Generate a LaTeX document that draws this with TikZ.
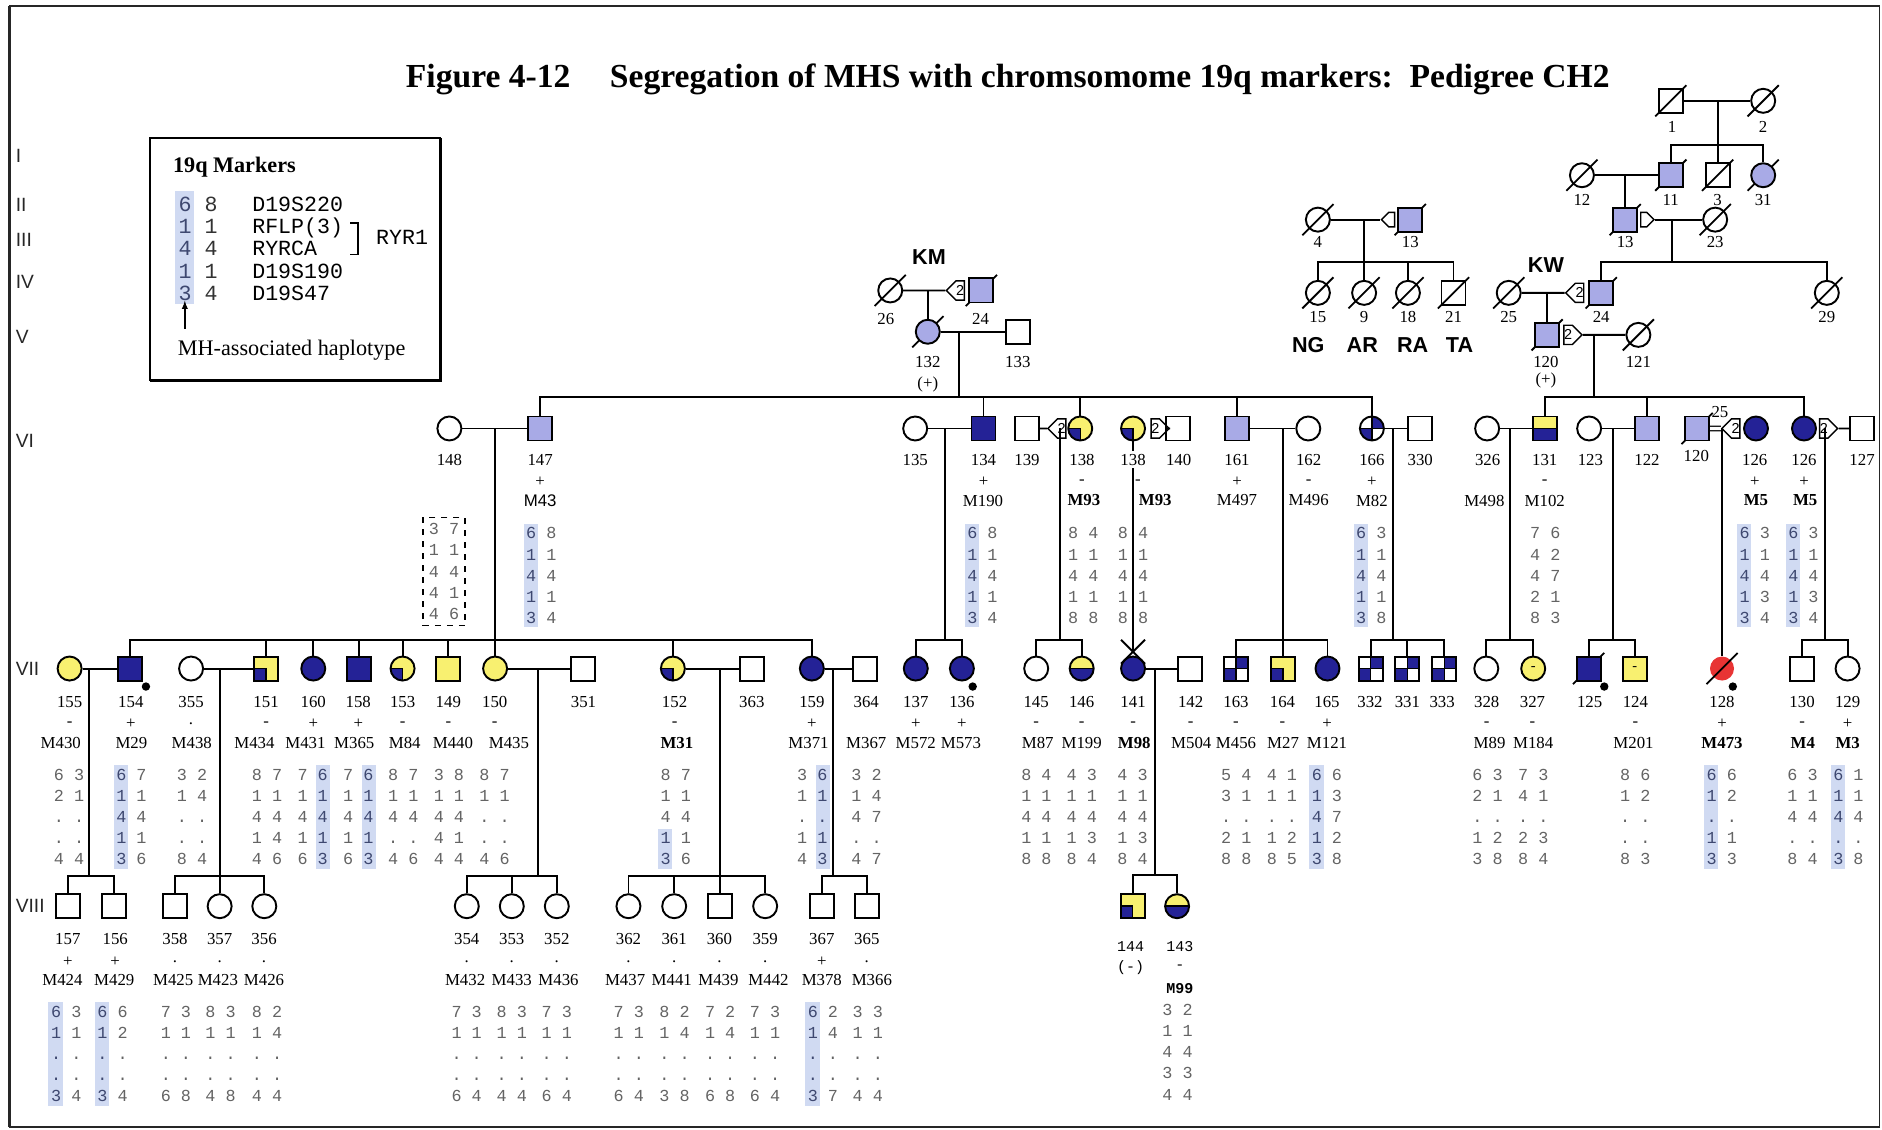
\documentclass[tikz,border=0pt]{standalone}
\usepackage{fontspec}
\setmainfont{Liberation Serif}
\setsansfont{Liberation Sans}
\setmonofont{Liberation Mono}
\usetikzlibrary{arrows,shapes.symbols}
\pgfdeclarelayer{bg}
\pgfsetlayers{bg,main}

\definecolor{lblue}{RGB}{168,170,230}
\definecolor{dblue}{RGB}{36,34,150}
\definecolor{yel}{RGB}{248,240,112}
\definecolor{redc}{RGB}{232,52,52}
\definecolor{hlc}{RGB}{208,218,242}
\definecolor{adig}{RGB}{100,100,100}
\definecolor{hdig}{RGB}{62,72,112}

\tikzset{
  ml/.style={rectangle,draw,line width=1.6pt,minimum size=20pt,inner sep=0pt},
  fm/.style={circle,draw,line width=1.6pt,minimum size=20pt,inner sep=0pt},
  lb/.style={fill=lblue},
  db/.style={fill=dblue},
  yw/.style={fill=yel},
  rd/.style={fill=redc},
  yq/.style={fill=yel,path picture={
      \fill[dblue] (path picture bounding box.south west) rectangle (path picture bounding box.center);
      \draw[line width=1.2pt] (path picture bounding box.west) -- (path picture bounding box.center) -- (path picture bounding box.south);}},
  xq/.style={fill=white,path picture={
      \fill[dblue] (path picture bounding box.south west) rectangle (path picture bounding box.center);
      \fill[dblue] (path picture bounding box.center) rectangle (path picture bounding box.north east);
      \draw[line width=1.2pt] (path picture bounding box.west) -- (path picture bounding box.east)
        (path picture bounding box.north) -- (path picture bounding box.south);}},
  hf/.style={fill=yel,path picture={
      \fill[dblue] (path picture bounding box.south west) rectangle (path picture bounding box.east);
      \draw[line width=1.2pt] (path picture bounding box.west) -- (path picture bounding box.east);}},
  pent/.style={signal,draw,fill=white,line width=1.2pt,minimum width=15pt,minimum height=16pt,inner sep=0pt,
      font=\fontsize{12}{12}\selectfont\sffamily},
  ln/.style={line width=1.6pt},
  idt/.style={inner sep=0pt,font=\fontsize{14}{16}\selectfont},
  idm/.style={inner sep=0pt,font=\fontsize{12.5}{14}\selectfont\ttfamily},
  gtxt/.style={anchor=north,align=center,inner sep=0pt,text=adig,font=\fontsize{14}{17.6}\selectfont\ttfamily},
  hlbox/.style={fill=hlc},
  gen/.style={anchor=west,inner sep=0pt,text=black!85,font=\fontsize{16}{18}\selectfont\sffamily},
  fam/.style={inner sep=0pt,font=\fontsize{18}{20}\selectfont\sffamily\bfseries},
  dotm/.style={circle,fill=black,inner sep=0pt,minimum size=7pt},
  slash/.style={line width=1.5pt}
}

\newcommand{\hd}[1]{\textcolor{hdig}{#1}}
% id, sign and marker under one person
\newcommand{\indiv}[7]{%
  \path (#2,#4) node(i#1)[idt]{#5};
  \path (#2,#4+18.5) node(s#1)[idt]{#6};
  \path (#3,#4+34) node(m#1)[idt]{#7};}
\newcommand{\geno}[4]{\path (#2,#3) node(g#1)[gtxt]{#4};}
\newcommand{\hlL}[1]{\begin{pgfonlayer}{bg}\fill[hlbox] ([shift={(-2,-3)}]#1.north west) rectangle ([shift={(10,3)}]#1.south west);\end{pgfonlayer}}
\newcommand{\hlR}[1]{\begin{pgfonlayer}{bg}\fill[hlbox] ([shift={(-10,-3)}]#1.north east) rectangle ([shift={(2,3)}]#1.south east);\end{pgfonlayer}}
\newcommand{\dec}[1]{\draw[slash] ([shift={(-13,13)}]#1.center) -- ([shift={(13,-13)}]#1.center);}
\newcommand{\decb}[1]{\begin{pgfonlayer}{bg}\dec{#1}\end{pgfonlayer}}

\begin{document}
\begin{tikzpicture}[x=1pt,y=-1pt]
		\useasboundingbox (0,0) rectangle (1568,941);
		\draw[line width=1.3pt,black!85] (8,5) rectangle (1566,939);
		\draw[line width=2.2pt,black!85] (8,5) -- (8,939);

		% title
		\path (338,73) node(t1)[anchor=base west,inner sep=0pt,font=\fontsize{28}{30}\selectfont\bfseries] {Figure 4-12};
		\path (508,73) node(t2)[anchor=base west,inner sep=0pt,font=\fontsize{28}{30}\selectfont\bfseries] {Segregation of MHS with chromsomome 19q markers:\ \ Pedigree CH2};

		% generations
		\path (13,130) node(gI)[gen] {I};
		\path (13,171) node(gII)[gen] {II};
		\path (13,200) node(gIII)[gen] {III};
		\path (13,235) node(gIV)[gen] {IV};
		\path (13,281) node(gV)[gen] {V};
		\path (13,367) node(gVI)[gen] {VI};
		\path (13,557) node(gVII)[gen] {VII};
		\path (13,755) node(gVIII)[gen] {VIII};

		% legend
		\draw[line width=1.3pt] (125,115) rectangle (367,317);
		\draw[line width=2.6pt] (125,317) -- (367,317) -- (367,115);
		\path (144,139) node(lt)[anchor=west,inner sep=0pt,font=\fontsize{18.5}{20}\selectfont\bfseries] {19q Markers};
		\path (165,164) node(lgt)[anchor=north,align=center,inner sep=0pt,text=black!80,font=\fontsize{18}{18.5}\selectfont\ttfamily] {\hd6 8\\\hd1 1\\\hd4 4\\\hd1 1\\\hd3 4};
		\path (210,164) node(lnm)[anchor=north west,align=left,inner sep=0pt,font=\fontsize{18}{18.5}\selectfont\ttfamily] {D19S220\\RFLP(3)\\RYRCA\\D19S190\\D19S47};
		\draw[line width=1.5pt] (292,186) -- (298,186) -- (298,212) -- (292,212);
		\path (335,198) node(lry)[inner sep=0pt,font=\fontsize{18}{18.5}\selectfont\ttfamily] {RYR1};
		\path (154,274) coordinate (arrfoot);
		\draw[-latex,line width=1.3pt] (arrfoot) -- (arrfoot |- lgt.south);
		\path (148,292) node(lhap)[anchor=west,inner sep=0pt,font=\fontsize{18.5}{20}\selectfont] {MH-associated haplotype};
		\begin{pgfonlayer}{bg}
		\fill[hlbox] ([shift={(-3,-5)}]lgt.north west) rectangle ([shift={(13,3)}]lgt.south west);
		\end{pgfonlayer}

		% generation I - V, right family
		\path (1392,84) node(p1)[ml] {};
		\path (1469,84) node(p2)[fm] {};
		\dec{p1} \dec{p2}
		\path (1393,105.6) node(i1)[idt] {1};
		\path (1469,105.6) node(i2)[idt] {2};
		\path (1318,146) node(p12)[fm] {};
		\path (1392,146) node(p11)[ml,lb] {};
		\path (1431,146) node(p3)[ml] {};
		\path (1469,146) node(p31)[fm,lb] {};
		\dec{p12} \decb{p11} \dec{p3} \decb{p31}
		\path (1318,166.7) node(i12)[idt] {12};
		\path (1392,166.7) node(i11)[idt] {11};
		\path (1431,166.7) node(i3)[idt] {3};
		\path (1469,166.7) node(i31)[idt] {31};
		\path (1354,183) node(p13r)[ml,lb] {};
		\path (1369.5,183) node(q13r)[pent,signal to=east,minimum width=11pt,minimum height=12pt] {};
		\path (1429,183) node(p23)[fm] {};
		\decb{p13r} \dec{p23}
		\path (1354,201.4) node(i13r)[idt] {13};
		\path (1429,201.4) node(i23)[idt] {23};
		\path (1257,244) node(p25)[fm] {};
		\path (1334,244) node(p24w)[ml,lb] {};
		\path (1316,244) node(q24w)[pent,signal to=west] {2};
		\path (1522,244) node(p29)[fm] {};
		\dec{p25} \decb{p24w} \dec{p29}
		\path (1257,264) node(i25)[idt] {25};
		\path (1334,264) node(i24w)[idt] {24};
		\path (1522,264) node(i29)[idt] {29};
		\path (1288,221) node(kw)[fam] {KW};
		\path (1289,279) node(p120v)[ml,lb] {};
		\path (1306.5,279) node(q120v)[pent,signal to=east] {2};
		\path (1365,279) node(p121)[fm] {};
		\decb{p120v} \dec{p121}
		\path (1288,301.4) node(i120v)[idt] {120};
		\path (1365,301.4) node(i121)[idt] {121};
		\path (1288,317) node(s120v)[idt] {(+)};

		% NG family
		\path (1098,183) node(p4)[fm] {};
		\path (1175,183) node(p13l)[ml,lb] {};
		\path (1159.5,183) node(q13l)[pent,signal to=west,minimum width=11pt,minimum height=12pt] {};
		\dec{p4} \decb{p13l}
		\path (1098,201.4) node(i4)[idt] {4};
		\path (1175,201.4) node(i13l)[idt] {13};
		\path (1098,244) node(p15)[fm] {};
		\path (1136.5,244) node(p9)[fm] {};
		\path (1173,244) node(p18)[fm] {};
		\path (1211,244) node(p21)[ml] {};
		\dec{p15} \dec{p9} \dec{p18} \dec{p21}
		\path (1098,264) node(i15)[idt] {15};
		\path (1136.5,264) node(i9)[idt] {9};
		\path (1173,264) node(i18)[idt] {18};
		\path (1211,264) node(i21)[idt] {21};
		\path (1090,287.5) node(ng)[fam] {NG};
		\path (1135,287.5) node(ar)[fam] {AR};
		\path (1177,287.5) node(ra)[fam] {RA};
		\path (1216,287.5) node(ta)[fam] {TA};

		% KM family
		\path (741.7,242) node(p26)[fm] {};
		\path (817.6,242) node(p24m)[ml,lb] {};
		\path (800,242) node(q24m)[pent,signal to=west] {2};
		\dec{p26} \decb{p24m}
		\path (738,266) node(i26)[idt] {26};
		\path (817,266) node(i24m)[idt] {24};
		\path (774,214) node(km)[fam] {KM};
		\path (773,276.4) node(p132)[fm,lb] {};
		\path (848,276.4) node(p133)[ml] {};
		\decb{p132}
		\path (773,301.4) node(i132)[idt] {132};
		\path (848,301.4) node(i133)[idt] {133};
		\path (773,320) node(s132)[idt] {(+)};

		% generation VI
		\path (374.4,357) node(p148)[fm] {};
		\path (450,357) node(p147)[ml,lb] {};
		\path (762.5,357) node(p135)[fm] {};
		\path (819.4,357) node(p134)[ml,db] {};
		\path (855.6,357) node(p139)[ml] {};
		\path (900,357) node(p138a)[fm,yq] {};
		\path (884.5,357) node(q138a)[pent,signal to=west] {2};
		\path (944,357) node(p138b)[fm,yq] {};
		\path (962.5,357) node(q138b)[pent,signal to=east] {2};
		\path (981.7,357) node(p140)[ml] {};
		\path (1030.6,357) node(p161)[ml,lb] {};
		\path (1090,357) node(p162)[fm] {};
		\path (1143,357) node(p166)[fm,xq] {};
		\path (1183,357) node(p330)[ml] {};
		\path (1239,357) node(p326)[fm] {};
		\path (1287.5,357) node(p131)[ml,hf] {};
		\path (1324,357) node(p123)[fm] {};
		\path (1372,357) node(p122)[ml,lb] {};
		\path (1414,357) node(p120)[ml,lb] {};
		\path (1463,357) node(p126a)[fm,db] {};
		\path (1446,357) node(q126a)[pent,signal to=west] {2};
		\path (1503,357) node(p126b)[fm,db] {};
		\path (1519.5,357) node(q126b)[pent,signal to=east] {2};
		\path (1551.5,357) node(p127)[ml] {};
		\decb{p120}

		\path (374.4,383) node(i148)[idt] {148};
		\indiv{147}{450}{450}{383}{147}{+}{\textsf{M43}}
		\path (762.5,383) node(i135)[idt] {135};
		\indiv{134}{819.4}{819}{383}{134}{+}{M190}
		\path (855.6,383) node(i139)[idt] {139};
		\indiv{138a}{901.5}{903}{383}{138}{-}{\textbf{M93}}
		\path (944,383) node(i138b)[idt,inner sep=2pt] {138};
		\path (948,401.5) node(s138b)[idt] {-};
		\path (962.5,417) node(m138b)[idt] {\textbf{M93}};
		\path (982,383) node(i140)[idt] {140};
		\indiv{161}{1030.6}{1030.6}{383}{161}{+}{M497}
		\indiv{162}{1090.3}{1090.3}{383}{162}{-}{M496}
		\indiv{166}{1143}{1143}{383}{166}{+}{M82}
		\path (1183.3,383) node(i330)[idt] {330};
		\path (1239.4,383) node(i326)[idt] {326};
		\path (1236.7,417) node(m326)[idt] {M498};
		\indiv{131}{1287}{1287}{383}{131}{-}{M102}
		\path (1325,383) node(i123)[idt] {123};
		\path (1372.2,383) node(i122)[idt] {122};
		\path (1413.3,380) node(i120)[idt] {120};
		\indiv{126a}{1462}{1463}{383}{126}{+}{\textbf{M5}}
		\indiv{126b}{1503}{1504}{383}{126}{+}{\textbf{M5}}
		\path (1551.4,383) node(i127)[idt] {127};
		\path (1433,343) node(t25)[idt] {25};

		\geno{147}{451}{439.5}{\hd6 8\\\hd1 1\\\hd4 4\\\hd1 1\\\hd3 4} \hlL{g147}
		\geno{134}{818.5}{439.5}{\hd6 8\\\hd1 1\\\hd4 4\\\hd1 1\\\hd3 4} \hlL{g134}
		\geno{138a}{902.5}{439.5}{8 4\\1 1\\4 4\\1 1\\8 8}
		\geno{138b}{944}{439.5}{8 4\\1 1\\4 4\\1 1\\8 8}
		\geno{166}{1142.5}{439.5}{\hd6 3\\\hd1 1\\\hd4 4\\\hd1 1\\\hd3 8} \hlL{g166}
		\geno{131}{1287.5}{439.5}{7 6\\4 2\\4 7\\2 1\\8 3}
		\geno{126a}{1462}{439.5}{\hd6 3\\\hd1 1\\\hd4 4\\\hd1 3\\\hd3 4} \hlL{g126a}
		\geno{126b}{1502.5}{439.5}{\hd6 3\\\hd1 1\\\hd4 4\\\hd1 3\\\hd3 4} \hlL{g126b}
		\path (370,430.5) node(g148)[gtxt,draw=black,dash pattern=on 5pt off 5pt,line width=1.4pt,inner sep=5pt] {3 7\\1 1\\4 4\\4 1\\4 6};

		% generation VII
		\path (58,557) node(p155)[fm,yw] {};
		\path (108.6,557) node(p154)[ml,db] {};
		\path (159.2,557) node(p355)[fm] {};
		\path (221.7,557) node(p151)[ml,yq] {};
		\path (261,557) node(p160)[fm,db] {};
		\path (299,557) node(p158)[ml,db] {};
		\path (335.4,557) node(p153)[fm,yq] {};
		\path (373.5,557) node(p149)[ml,yw] {};
		\path (412.5,557) node(p150)[fm,yw] {};
		\path (486.1,557) node(p351)[ml] {};
		\path (560.6,557) node(p152)[fm,yq] {};
		\path (626.4,557) node(p363)[ml] {};
		\path (676.4,557) node(p159)[fm,db] {};
		\path (720.8,557) node(p364)[ml] {};
		\path (763,557) node(p137)[fm,db] {};
		\path (801.4,557) node(p136)[fm,db] {};
		\path (863.3,557) node(p145)[fm] {};
		\path (901.2,557) node(p146)[fm,hf] {};
		\path (944,557) node(p141)[fm,db] {};
		\path (991.7,557) node(p142)[ml] {};
		\path (1029.8,557) node(p163)[ml,xq] {};
		\path (1069,557) node(p164)[ml,yq] {};
		\path (1106,557) node(p165)[fm,db] {};
		\path (1142,557) node(p332)[ml,xq] {};
		\path (1172.5,557) node(p331)[ml,xq] {};
		\path (1203.4,557) node(p333)[ml,xq] {};
		\path (1238.3,557) node(p328)[fm] {};
		\path (1277.4,557) node(p327)[fm,yw,font=\fontsize{12}{12}\selectfont] {\raisebox{-3pt}{-}};
		\path (1323.6,557) node(p125)[ml,db] {};
		\path (1362,557) node(p124)[ml,yw,font=\fontsize{12}{12}\selectfont] {\raisebox{-3pt}{-}};
		\path (1434.7,557) node(p128)[fm,rd,draw=none] {};
		\path (1501.4,557) node(p130)[ml] {};
		\path (1539.3,557) node(p129)[fm] {};
		\decb{p125} \dec{p128}
		\path ([shift={(13,15)}]p154.center) node(d154)[dotm] {};
		\path ([shift={(9,15)}]p136.center) node(d136)[dotm] {};
		\path ([shift={(13,15)}]p125.center) node(d125)[dotm] {};
		\path ([shift={(9,15)}]p128.center) node(d128)[dotm] {};
		\draw[line width=1.6pt] (934,533) -- (954,553) (954,533) -- (934,553);
		\path (944,543) coordinate (xm141);

		\indiv{155}{58}{50.6}{584.7}{155}{-}{M430}
		\indiv{154}{109}{109.5}{584.7}{154}{+}{M29}
		\indiv{355}{159.2}{159.8}{584.7}{355}{.}{M438}
		\indiv{151}{221.7}{212}{584.7}{151}{-}{M434}
		\indiv{160}{261}{254.5}{584.7}{160}{+}{M431}
		\indiv{158}{298.5}{295.2}{584.7}{158}{+}{M365}
		\indiv{153}{335.5}{337.2}{584.7}{153}{-}{M84}
		\indiv{149}{373.5}{377.4}{584.7}{149}{-}{M440}
		\indiv{150}{412.2}{424}{584.7}{150}{-}{M435}
		\path (486.1,584.7) node(i351)[idt] {351};
		\indiv{152}{562}{563.9}{584.7}{152}{-}{\textbf{M31}}
		\path (626.4,584.7) node(i363)[idt] {363};
		\indiv{159}{676.4}{673.6}{584.7}{159}{+}{M371}
		\indiv{364}{721.7}{721.7}{584.7}{364}{}{M367}
		\indiv{137}{763}{763}{584.7}{137}{+}{M572}
		\indiv{136}{801.4}{800.6}{584.7}{136}{+}{M573}
		\indiv{145}{863.3}{864.6}{584.7}{145}{-}{M87}
		\indiv{146}{901.2}{901.2}{584.7}{146}{-}{M199}
		\indiv{141}{944}{945}{584.7}{141}{-}{\textbf{M98}}
		\indiv{142}{992}{992.5}{584.7}{142}{-}{M504}
		\indiv{163}{1029.8}{1029.8}{584.7}{163}{-}{M456}
		\indiv{164}{1068.5}{1069}{584.7}{164}{-}{M27}
		\indiv{165}{1105.6}{1105.6}{584.7}{165}{+}{M121}
		\path (1141.4,584.7) node(i332)[idt] {332};
		\path (1172.6,584.7) node(i331)[idt] {331};
		\path (1201.5,584.7) node(i333)[idt] {333};
		\indiv{328}{1238.7}{1241}{584.7}{328}{-}{M89}
		\indiv{327}{1276.8}{1277.4}{584.7}{327}{-}{M184}
		\path (1324.4,584.7) node(i125)[idt] {125};
		\indiv{124}{1362.5}{1361}{584.7}{124}{-}{M201}
		\indiv{128}{1434.7}{1434.7}{584.7}{128}{+}{\textbf{M473}}
		\indiv{130}{1501.4}{1502}{584.7}{130}{-}{\textbf{M4}}
		\indiv{129}{1539.4}{1539.4}{584.7}{129}{+}{\textbf{M3}}

		\geno{155}{57.5}{640.5}{6 3\\2 1\\. .\\. .\\4 4}
		\geno{154}{109.5}{640.5}{\hd6 7\\\hd1 1\\\hd4 4\\\hd1 1\\\hd3 6} \hlL{g154}
		\geno{355}{160}{640.5}{3 2\\1 4\\. .\\. .\\8 4}
		\geno{151}{222.5}{640.5}{8 7\\1 1\\4 4\\1 4\\4 6}
		\geno{160}{260.5}{640.5}{7 \hd6\\1 \hd1\\4 \hd4\\1 \hd1\\6 \hd3} \hlR{g160}
		\geno{158}{298.5}{640.5}{7 \hd6\\1 \hd1\\4 \hd4\\1 \hd1\\6 \hd3} \hlR{g158}
		\geno{153}{336}{640.5}{8 7\\1 1\\4 4\\. .\\4 6}
		\geno{149}{374}{640.5}{3 8\\1 1\\4 4\\4 1\\4 4}
		\geno{150}{412}{640.5}{8 7\\1 1\\. .\\. .\\4 6}
		\geno{152}{563}{640.5}{8 7\\1 1\\4 4\\\hd1 1\\\hd3 6}
		\begin{pgfonlayer}{bg}
		\fill[hlbox] ([shift={(-2,50)}]g152.north west) rectangle ([shift={(10,3)}]g152.south west);
		\end{pgfonlayer}
		\geno{159}{676.7}{640.5}{3 \hd6\\1 \hd1\\. \hd.\\1 \hd1\\4 \hd3} \hlR{g159}
		\geno{364}{722}{640.5}{3 2\\1 4\\4 7\\. .\\4 7}
		\geno{145}{863.5}{640.5}{8 4\\1 1\\4 4\\1 1\\8 8}
		\geno{146}{901.3}{640.5}{4 3\\1 1\\4 4\\1 3\\8 4}
		\geno{141}{943.6}{640.5}{4 3\\1 1\\4 4\\1 3\\8 4}
		\geno{163}{1030}{640.5}{5 4\\3 1\\. .\\2 1\\8 8}
		\geno{164}{1068}{640.5}{4 1\\1 1\\. .\\1 2\\8 5}
		\geno{165}{1105.5}{640.5}{\hd6 6\\\hd1 3\\\hd4 7\\\hd1 2\\\hd3 8} \hlL{g165}
		\geno{328}{1239.3}{640.5}{6 3\\2 1\\. .\\1 2\\3 8}
		\geno{327}{1277.5}{640.5}{7 3\\4 1\\. .\\2 3\\8 4}
		\geno{124}{1362.5}{640.5}{8 6\\1 2\\. .\\. .\\8 3}
		\geno{128}{1434.5}{640.5}{\hd6 6\\\hd1 2\\\hd. .\\\hd1 1\\\hd3 3} \hlL{g128}
		\geno{130}{1501.8}{640.5}{6 3\\1 1\\4 4\\. .\\8 4}
		\geno{129}{1540}{640.5}{\hd6 1\\\hd1 1\\\hd4 4\\\hd. .\\\hd3 8} \hlL{g129}

		% generation VIII
		\path (56.5,755) node(p157)[ml] {};
		\path (94.6,755) node(p156)[ml] {};
		\path (145.8,755) node(p358)[ml] {};
		\path (183,755) node(p357)[fm] {};
		\path (220.2,755) node(p356)[fm] {};
		\path (388.9,755) node(p354)[fm] {};
		\path (426.4,755) node(p353)[fm] {};
		\path (463.9,755) node(p352)[fm] {};
		\path (523.6,755) node(p362)[fm] {};
		\path (561.7,755) node(p361)[fm] {};
		\path (600,755) node(p360)[ml] {};
		\path (637.5,755) node(p359)[fm] {};
		\path (684.7,755) node(p367)[ml] {};
		\path (722.2,755) node(p365)[ml] {};
		\path (943.6,755) node(p144)[ml,yq] {};
		\path (980.7,755) node(p143)[fm,hf] {};

		\indiv{157}{56.5}{52}{782.5}{157}{+}{M424}
		\indiv{156}{96}{95.2}{782.5}{156}{+}{M429}
		\indiv{358}{145.8}{144.3}{782.5}{358}{.}{M425}
		\indiv{357}{183}{181.5}{782.5}{357}{.}{M423}
		\indiv{356}{220}{220}{782.5}{356}{.}{M426}
		\indiv{354}{388.9}{387.5}{782.5}{354}{.}{M432}
		\indiv{353}{426.4}{426.4}{782.5}{353}{.}{M433}
		\indiv{352}{463.9}{465.3}{782.5}{352}{.}{M436}
		\indiv{362}{523.6}{520.8}{782.5}{362}{.}{M437}
		\indiv{361}{561.7}{559.7}{782.5}{361}{.}{M441}
		\indiv{360}{599.4}{598.6}{782.5}{360}{.}{M439}
		\indiv{359}{637.5}{640.3}{782.5}{359}{.}{M442}
		\indiv{367}{684.7}{684.7}{782.5}{367}{+}{M378}
		\indiv{365}{722.2}{726.4}{782.5}{365}{.}{M366}
		\path (942,789) node(i144)[idm] {144};
		\path (983,789) node(i143)[idm] {143};
		\path (942,806) node(s144)[idm] {(-)};
		\path (983,806) node(s143)[idm] {-};
		\path (983,824) node(m143)[idm,font=\fontsize{12.5}{14}\selectfont\ttfamily\bfseries] {M99};

		\geno{157}{55.2}{838}{\hd6 3\\\hd1 1\\\hd. .\\\hd. .\\\hd3 4} \hlL{g157}
		\geno{156}{93.8}{838}{\hd6 6\\\hd1 2\\\hd. .\\\hd. .\\\hd3 4} \hlL{g156}
		\geno{358}{146.6}{838}{7 3\\1 1\\. .\\. .\\6 8}
		\geno{357}{183.8}{838}{8 3\\1 1\\. .\\. .\\4 8}
		\geno{356}{222.5}{838}{8 2\\1 4\\. .\\. .\\4 4}
		\geno{354}{388.8}{838}{7 3\\1 1\\. .\\. .\\6 4}
		\geno{353}{426.4}{838}{8 3\\1 1\\. .\\. .\\4 4}
		\geno{352}{463.9}{838}{7 3\\1 1\\. .\\. .\\6 4}
		\geno{362}{523.9}{838}{7 3\\1 1\\. .\\. .\\6 4}
		\geno{361}{562}{838}{8 2\\1 4\\. .\\. .\\3 8}
		\geno{360}{600}{838}{7 2\\1 4\\. .\\. .\\6 8}
		\geno{359}{637.4}{838}{7 3\\1 1\\. .\\. .\\6 4}
		\geno{367}{685.6}{838}{\hd6 2\\\hd1 4\\\hd. .\\\hd. .\\\hd3 7} \hlL{g367}
		\geno{365}{723}{838}{3 3\\1 1\\. .\\. .\\4 4}
		\geno{143}{981}{836.5}{3 2\\1 1\\4 4\\3 3\\4 4}

		% lines, generations I - V
		\draw[ln] (p1) -- (p2);
		\path (1431,84) coordinate (c1);
		\path (1431,121) coordinate (sb1);
		\draw[ln] (c1) -- (p3);
		\draw[ln] (p11) |- (sb1) -| (p31);
		\draw[ln] (p12) -- (p11);
		\path (1354,146) coordinate (c12);
		\draw[ln] (c12) -- (p13r);
		\draw[ln] (q13r) -- (p23);
		\path (1393,183) coordinate (c13);
		\path (1393,218) coordinate (sb13);
		\draw[ln] (c13) -- (sb13);
		\draw[ln] (p24w) |- (sb13) -| (p29);
		\draw[ln] (p4) -- (q13l);
		\path (1136.5,183) coordinate (c4);
		\path (1136.5,218) coordinate (sb4);
		\draw[ln] (c4) -- (p9);
		\draw[ln] (p15) |- (sb4) -| (p21);
		\draw[ln] (p18) -- (p18 |- sb4);
		\draw[ln] (p25) -- (q24w);
		\path (1289,244) coordinate (c25);
		\draw[ln] (c25) -- (p120v);
		\draw[ln] (q120v) -- (p121);
		\path (1327.7,279) coordinate (c120v);
		\path (1327.7,330.5) coordinate (sbkw);
		\draw[ln] (c120v) -- (sbkw);
		\draw[ln] (p131) |- (sbkw) -| (p126b);
		\draw[ln] (p122) -- (p122 |- sbkw);
		\draw[ln] (p26) -- (q24m);
		\path (773,242) coordinate (c26);
		\draw[ln] (c26) -- (p132);
		\draw[ln] (p132) -- (p133);
		\path (799,276.4) coordinate (c132);
		\path (799,330.5) coordinate (sbkm);
		\draw[ln] (c132) -- (sbkm);
		\draw[ln] (p147) |- (sbkm) -| (p166);
		\draw[ln] (p134) -- (p134 |- sbkm);
		\draw[ln] (p138a) -- (p138a |- sbkm);
		\draw[ln] (p161) -- (p161 |- sbkm);

		% lines, generation VI to VII
		\draw[ln] (p148) -- (p147);
		\path (412.5,357) coordinate (c148);
		\path (412.5,533) coordinate (sbL);
		\draw[ln] (c148) -- (p150);
		\draw[ln] (p154) |- (sbL) -| (p159);
		\draw[ln] (p151) -- (p151 |- sbL);
		\draw[ln] (p160) -- (p160 |- sbL);
		\draw[ln] (p158) -- (p158 |- sbL);
		\draw[ln] (p153) -- (p153 |- sbL);
		\draw[ln] (p149) -- (p149 |- sbL);
		\draw[ln] (p152) -- (p152 |- sbL);
		\draw[ln] (p135) -- (p134);
		\path (787.5,357) coordinate (c135);
		\path (787.5,533) coordinate (sb135);
		\draw[ln] (c135) -- (sb135);
		\draw[ln] (p137) |- (sb135) -| (p136);
		\draw[ln] (p139) -- (q138a);
		\path (882.8,357) coordinate (c139);
		\path (882.8,533) coordinate (sb139);
		\draw[ln] (c139) -- (sb139);
		\draw[ln] (p145) |- (sb139) -| (p146);
		\draw[ln] (p138b) -- (i138b);
		\draw[ln] (i138b) -- (xm141);
		\draw[ln] (q138b) -- (p140);
		\draw[ln] (p161) -- (p162);
		\path (1069,357) coordinate (c161);
		\path (1069,533) coordinate (sb161);
		\draw[ln] (c161) -- (p164);
		\draw[ln] (p163) |- (sb161) -| (p165);
		\draw[ln] (p166) -- (p330);
		\path (1160.8,357) coordinate (c166);
		\path (1160.8,533) coordinate (sb166);
		\draw[ln] (c166) -- (sb166);
		\draw[ln] (p332) |- (sb166) -| (p333);
		\draw[ln] (p331) -- (p331 |- sb166);
		\draw[ln] (p326) -- (p131);
		\path (1258,357) coordinate (c326);
		\path (1258,533) coordinate (sb326);
		\draw[ln] (c326) -- (sb326);
		\draw[ln] (p328) |- (sb326) -| (p327);
		\draw[ln] (p123) -- (p122);
		\path (1343.6,357) coordinate (c123);
		\path (1343.6,533) coordinate (sb123);
		\draw[ln] (c123) -- (sb123);
		\draw[ln] (p125) |- (sb123) -| (p124);
		\draw[line width=1pt,double,double distance=2.8pt] (p120) -- (q126a);
		\path (1434.7,357) coordinate (c120);
		\draw[ln] (c120) -- (p128);
		\draw[ln] (q126b) -- (p127);
		\path (1520.8,357) coordinate (c126);
		\path (1520.8,533) coordinate (sb126);
		\draw[ln] (c126) -- (sb126);
		\draw[ln] (p130) |- (sb126) -| (p129);

		% lines, generation VII to VIII
		\draw[ln] (p155) -- (p154);
		\path (74.4,557) coordinate (c155);
		\path (74.4,730) coordinate (sb155);
		\draw[ln] (c155) -- (sb155);
		\draw[ln] (p157) |- (sb155) -| (p156);
		\draw[ln] (p355) -- (p151);
		\path (183,557) coordinate (c355);
		\path (183,730) coordinate (sb355);
		\draw[ln] (c355) -- (p357);
		\draw[ln] (p358) |- (sb355) -| (p356);
		\draw[ln] (p150) -- (p351);
		\path (448,557) coordinate (c150);
		\path (448,730) coordinate (sb150);
		\draw[ln] (c150) -- (sb150);
		\draw[ln] (p354) |- (sb150) -| (p352);
		\draw[ln] (p353) -- (p353 |- sb150);
		\draw[ln] (p152) -- (p363);
		\path (600,557) coordinate (c152);
		\path (600,730) coordinate (sb152);
		\draw[ln] (c152) -- (p360);
		\draw[ln] (p362) |- (sb152) -| (p359);
		\draw[ln] (p361) -- (p361 |- sb152);
		\draw[ln] (p159) -- (p364);
		\path (694,557) coordinate (c159);
		\path (694,730) coordinate (sb159);
		\draw[ln] (c159) -- (sb159);
		\draw[ln] (p367) |- (sb159) -| (p365);
		\draw[ln] (p141) -- (p142);
		\path (962,557) coordinate (c141);
		\path (962,729) coordinate (sb141);
		\draw[ln] (c141) -- (sb141);
		\draw[ln] (p144) |- (sb141) -| (p143);
	\end{tikzpicture}
\end{document}
